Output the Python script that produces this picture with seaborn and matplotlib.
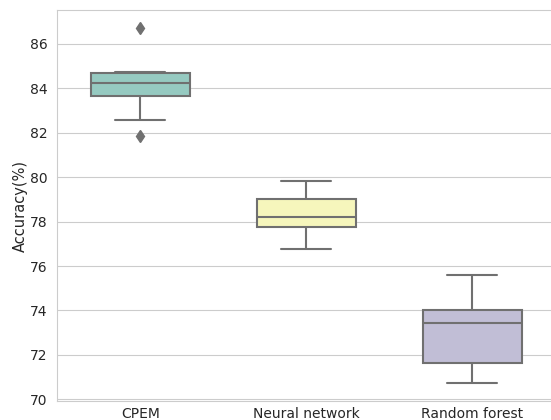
import pandas as pd
import matplotlib
matplotlib.use("Agg")
import matplotlib.pyplot as plt
import seaborn as sns

# accuracy samples per model
cpem = [81.85, 82.58, 83.66, 83.95, 84.24, 84.5, 84.69, 84.74, 86.72]
neural_network = [76.76, 77.77, 78.22, 79.01, 79.83]
random_forest = [70.72, 71.62, 73.43, 74.01, 75.59]
models = ["CPEM", "Neural network", "Random forest"]

df = pd.DataFrame({
    "model": [models[0]] * len(cpem) + [models[1]] * len(neural_network) + [models[2]] * len(random_forest),
    "accuracy": cpem + neural_network + random_forest,
})

sns.set_style("whitegrid")
plt.rcParams['font.family'] = ['DejaVu Sans']

fig = plt.figure(figsize=(5.51, 4.2), dpi=100)
ax = fig.add_axes([0.104, 0.045, 0.904, 0.931])

sns.boxplot(data=df, x="model", y="accuracy", hue="model", palette="Set3", legend=False,
            width=0.6, linecolor="0.44", linewidth=1.5, ax=ax,
            flierprops=dict(marker="d", markerfacecolor="0.44", markeredgecolor="0.44", markersize=6))

ax.set_xlabel("")
ax.set_ylabel("Accuracy(%)", fontsize=10.5, labelpad=1.5)
ax.tick_params(axis="y", labelsize=10, pad=3.5)
ax.tick_params(axis="x", labelsize=10, pad=1)
ax.set_yticks([70, 72, 74, 76, 78, 80, 82, 84, 86])

fig.savefig("out.png", dpi=100)
